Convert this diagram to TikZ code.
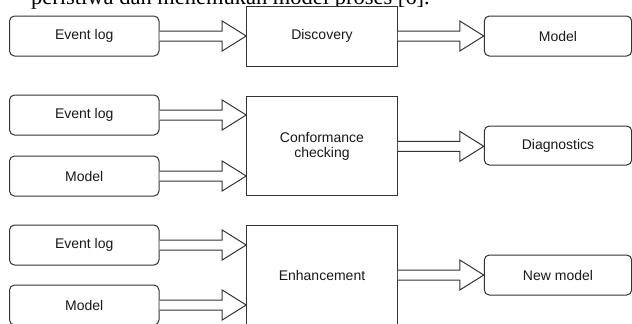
\documentclass[tikz,border=0pt]{standalone}
\usepackage{fontspec}
\setmainfont{Liberation Sans}
\newfontfamily\serifpart{Liberation Serif}
\usetikzlibrary{calc}
\tikzset{
  x=1pt, y=-1pt,
  inbox/.style={draw=black!80, line width=1pt, rounded corners=5pt, minimum width=149.5pt, minimum height=40pt, inner sep=0pt, font=\fontsize{14}{16}\selectfont, text=black!90, fill=white},
  outbox/.style={inbox, minimum width=147.4pt},
  procbox/.style={draw=black!80, line width=1pt, minimum width=150.6pt, inner sep=0pt, font=\fontsize{14}{16}\selectfont, text=black!90, align=center, fill=white},
  barrow/.style={draw=black!80, line width=1pt, fill=white, line join=miter}
}
\newcommand\blockarr[2]{%
  \draw[barrow] let \p1=(#1.east), \p2=(#2.west) in
    (\x1,\y1-5pt) -- (\x2-24pt,\y1-5pt) -- (\x2-24pt,\y1-15pt) -- (\x2,\y1)
    -- (\x2-24pt,\y1+15pt) -- (\x2-24pt,\y1+5pt) -- (\x1,\y1+5pt);}
\begin{document}
\begin{tikzpicture}
\useasboundingbox (0,0) rectangle (632,324);
\clip (0,0) rectangle (632,324);
\node[anchor=base east, inner sep=0pt, font=\serifpart\fontsize{22.5}{24}\selectfont] (toptext) at (430,4.5) {\strut peristiwa dan menemukan model proses [6].};
% row 1
\node[inbox] (e1) at (84.25,36) {Event log};
\node[procbox, minimum height=60pt] (disc) at (322,36) {Discovery};
\node[outbox] (mout) at (558,36) {Model};
% row 2
\node[inbox] (e2) at (84.25,115) {Event log};
\node[inbox] (m2) at (84.25,176) {Model};
\node[procbox, minimum height=99.3pt] (conf) at (322,146.3) {Conformance\\[-1pt]checking};
\node[outbox, minimum height=39pt] (diag) at (558,145.5) {Diagnostics};
% row 3
\node[inbox] (e3) at (84.25,245) {Event log};
\node[inbox] (m3) at (84.25,305) {Model};
\node[procbox, minimum height=100pt] (enh) at (322,275) {Enhancement};
\node[outbox] (newm) at (558,275) {New model};
% arrows
\blockarr{e1}{disc}
\blockarr{disc}{mout}
\blockarr{e2}{conf}
\blockarr{m2}{conf}
\blockarr{conf}{diag}
\blockarr{e3}{enh}
\blockarr{m3}{enh}
\blockarr{enh}{newm}
\end{tikzpicture}
\end{document}
